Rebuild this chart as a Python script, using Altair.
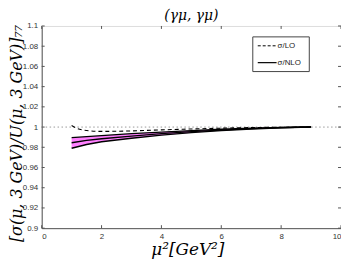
import altair as alt
import pandas as pd

# NLO band (upper, middle, lower) and LO curve
x_nlo = [1, 1.5, 2, 3, 4, 5, 6, 7, 8, 9]
nlo_upper = [0.9895, 0.9905, 0.9915, 0.9935, 0.995, 0.9965, 0.9978, 0.999, 0.9996, 1.0]
nlo_mid = [0.9845, 0.9868, 0.9885, 0.991, 0.9935, 0.9955, 0.997, 0.9985, 0.9994, 1.0]
nlo_lower = [0.979, 0.9828, 0.9855, 0.989, 0.992, 0.9945, 0.9965, 0.998, 0.9993, 1.0]

x_lo = [1, 1.2, 1.5, 2, 3, 4, 5, 6, 7, 8, 9]
lo_vals = [1.0015, 0.9985, 0.9966, 0.9957, 0.9962, 0.9972, 0.9981, 0.9989, 0.9995, 0.9998, 1.0]

x_ticks = [0, 2, 4, 6, 8, 10]
y_ticks = [0.9, 0.92, 0.94, 0.96, 0.98, 1.0, 1.02, 1.04, 1.06, 1.08, 1.1]
title_text = ["(γμ, γμ)"]

W, H = 302, 204

band = pd.DataFrame({"x": x_nlo, "lo": nlo_lower, "hi": nlo_upper})
nlo_long = pd.DataFrame({
    "x": x_nlo * 3,
    "y": nlo_upper + nlo_mid + nlo_lower,
    "k": ["u"] * len(x_nlo) + ["m"] * len(x_nlo) + ["l"] * len(x_nlo),
})
lo_df = pd.DataFrame({"x": x_lo, "y": lo_vals})

xs = alt.Scale(domain=[0, 10], nice=False, zero=False)
ys = alt.Scale(domain=[0.9, 1.1], nice=False, zero=False)

label_expr = "datum.value == 1 ? '1' : datum.value == 0.9 ? '0.9' : datum.value == 1.1 ? '1.1' : format(datum.value, '.2f')"

ax_x = alt.Axis(
    values=x_ticks, title="μ²[GeV²]", titleFont="DejaVu Serif", titleFontSize=17,
    titleFontWeight="normal", titleFontStyle="italic", titleBaseline="alphabetic",
    titleY=27, titleX=W / 2 - 4, titleColor="black",
    labelFont="Liberation Sans", labelFontSize=8, labelColor="#333", tickSize=0,
    labelPadding=4, domainColor="#555", grid=False, labelOverlap=False)
ax_y = alt.Axis(
    values=y_ticks, labelExpr=label_expr,
    title="[σ(μ, 3 GeV)/U(μ, 3 GeV)]₇₇", titleFont="DejaVu Serif", titleFontSize=16,
    titleFontWeight="normal", titleFontStyle="italic", titleBaseline="middle",
    titleX=-25, titleY=H / 2 + 6, titleAngle=270, titleColor="black",
    labelFont="Liberation Sans", labelFontSize=8, labelColor="#333", tickSize=0,
    labelPadding=4, domainColor="#555", grid=False, labelOverlap=False)

def X(f):
    return alt.X(f, type="quantitative", scale=xs, axis=ax_x)

def Y(f):
    return alt.Y(f, type="quantitative", scale=ys, axis=ax_y)

area = alt.Chart(band).mark_area(color="#ff80ff", opacity=1).encode(
    x=X("x"), y=Y("lo"), y2="hi:Q")

dotted = alt.Chart(pd.DataFrame({"x": [0, 10], "y": [1.0, 1.0]})).mark_line(
    color="#999", strokeDash=[1.5, 2.5], strokeWidth=1).encode(x=X("x"), y=Y("y"))

nlo_lines = alt.Chart(nlo_long).mark_line(color="black", strokeWidth=1.4).encode(
    x=X("x"), y=Y("y"), detail="k:N")

lo_line = alt.Chart(lo_df).mark_line(color="black", strokeDash=[4, 3], strokeWidth=1.1,
                                      interpolate="monotone").encode(x=X("x"), y=Y("y"))

# inward ticks
bx = pd.DataFrame({"x": x_ticks})
by = pd.DataFrame({"y": y_ticks})
tick_b = alt.Chart(bx).mark_rule(color="#555").encode(
    x=X("x"), y=alt.value(H), y2=alt.value(H - 3))
tick_t = alt.Chart(bx).mark_rule(color="#555").encode(
    x=X("x"), y=alt.value(0), y2=alt.value(3))
tick_l = alt.Chart(by).mark_rule(color="#555").encode(
    y=Y("y"), x=alt.value(0), x2=alt.value(3))
tick_r = alt.Chart(by).mark_rule(color="#555").encode(
    y=Y("y"), x=alt.value(W), x2=alt.value(W - 3))

# title as text mark
title_mark = alt.Chart(pd.DataFrame({"t": title_text})).mark_text(
    align="center", baseline="alphabetic", font="DejaVu Serif", fontSize=14,
    fontStyle="italic", color="black").encode(
    x=alt.value(W / 2), y=alt.value(-6), text="t:N")

# legend
legend_box = alt.Chart(pd.DataFrame({"a": [0]})).mark_rect(
    fill="white", stroke="#444", strokeWidth=1).encode(
    x=alt.value(213), x2=alt.value(270), y=alt.value(11), y2=alt.value(46))
leg_names = ["σ/LO", "σ/NLO"]
leg_dash = alt.Chart(pd.DataFrame({"n": [leg_names[0]]})).mark_rule(
    color="black", strokeDash=[3, 2], strokeWidth=1).encode(
    x=alt.value(218), x2=alt.value(237), y=alt.value(20))
leg_solid = alt.Chart(pd.DataFrame({"n": [leg_names[1]]})).mark_rule(
    color="black", strokeWidth=1.2).encode(
    x=alt.value(218), x2=alt.value(237), y=alt.value(37))
leg_t1 = alt.Chart(pd.DataFrame({"n": [leg_names[0]]})).mark_text(
    align="left", baseline="middle", font="Liberation Sans", fontSize=8, color="#222").encode(
    x=alt.value(238), y=alt.value(20.5), text="n:N")
leg_t2 = alt.Chart(pd.DataFrame({"n": [leg_names[1]]})).mark_text(
    align="left", baseline="middle", font="Liberation Sans", fontSize=8, color="#222").encode(
    x=alt.value(238), y=alt.value(37.5), text="n:N")

chart = alt.layer(
    dotted, area, nlo_lines, lo_line, tick_b, tick_t, tick_l, tick_r,
    legend_box, leg_dash, leg_solid, leg_t1, leg_t2, title_mark
).properties(
    width=W, height=H,
    autosize=alt.AutoSizeParams(type="none"),
    padding={"left": 34, "top": 17, "right": 0, "bottom": 32},
).configure_view(stroke="#555", strokeWidth=1).configure(background="white")

chart.save("out.html", embed_options={"renderer": "svg", "actions": False})
